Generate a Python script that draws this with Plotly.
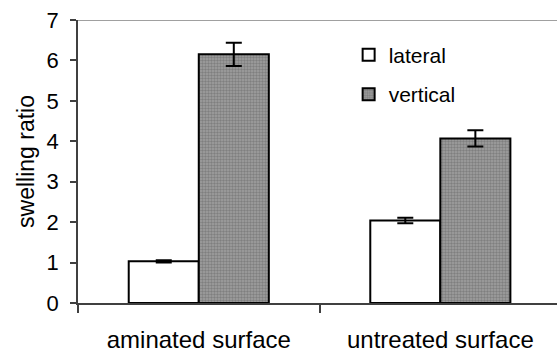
import plotly.graph_objects as go

categories = ["aminated surface", "untreated surface"]
lateral = [1.03, 2.04]
lateral_err = [0.03, 0.07]
vertical = [6.15, 4.07]
vertical_err = [0.29, 0.2]
y_ticks = [0, 1, 2, 3, 4, 5, 6, 7]

FONT = "Liberation Sans, Arial, sans-serif"

fig = go.Figure()
fig.add_trace(go.Bar(
    name="lateral", x=categories, y=lateral, legendgroup="a",
    marker=dict(color="white", line=dict(color="black", width=2)),
    error_y=dict(type="data", array=lateral_err, color="black", thickness=2, width=8),
))
fig.add_trace(go.Bar(
    name="vertical", x=categories, y=vertical, legendgroup="b",
    marker=dict(color="#8c8c8c", line=dict(color="black", width=2),
                pattern=dict(shape=".", fgcolor="#5e5e5e", bgcolor="#a0a0a0", size=3, solidity=0.5)),
    error_y=dict(type="data", array=vertical_err, color="black", thickness=2, width=8),
))

fig.update_layout(
    width=557, height=353,
    margin=dict(l=78, r=0, t=19.5, b=50),
    plot_bgcolor="white", paper_bgcolor="white",
    barmode="group", bargap=0.42, bargroupgap=0,
    font=dict(family=FONT, color="black"),
    showlegend=True,
    legend=dict(x=0.565, y=0.948, xanchor="left", yanchor="top",
                font=dict(size=21, family=FONT), tracegroupgap=9,
                bgcolor="rgba(0,0,0,0)"),
    xaxis=dict(type="category", range=[-0.5, 1.483], tickson="boundaries",
               ticks="outside", ticklen=8, tickwidth=1.5, tickcolor="#404040",
               showline=True, linecolor="#404040", linewidth=1.5,
               showgrid=False, tickfont=dict(size=24, family=FONT),
               ticklabelstandoff=14),
    yaxis=dict(range=[0, 7], tickvals=y_ticks, ticks="outside", ticklen=6,
               tickwidth=1.5, tickcolor="#404040",
               showline=True, linecolor="#404040", linewidth=1.5,
               showgrid=False, zeroline=False, tickfont=dict(size=22, family=FONT),
               ticklabelstandoff=7,
               title=dict(text="swelling ratio", font=dict(size=23, family=FONT), standoff=6)),
)
fig.add_shape(type="line", xref="paper", yref="y", x0=0, x1=1, y0=7, y1=7,
              line=dict(color="#808080", width=1.5))

fig.write_html("out.html")
